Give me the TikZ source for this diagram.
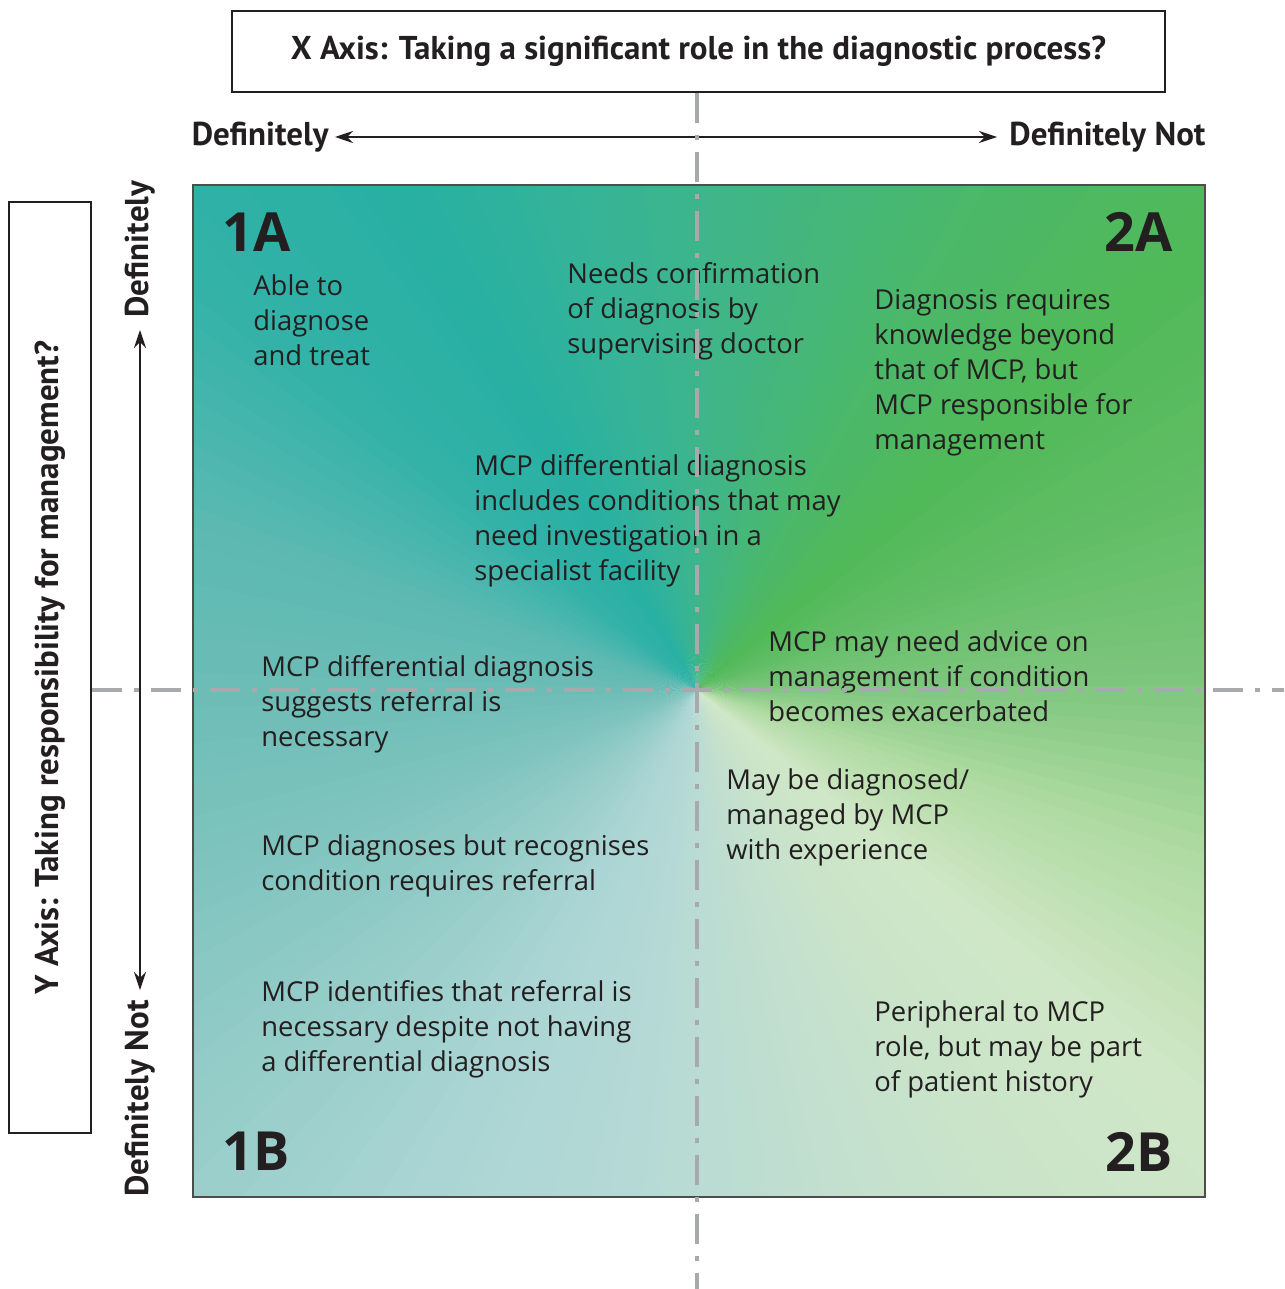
\documentclass[tikz,border=0pt]{standalone}
\usepackage{fontspec}
\setmainfont{Open Sans}
\newfontfamily\axisfont{PT Sans}
\usetikzlibrary{positioning,arrows.meta,calc}
\definecolor{ink}{HTML}{231F20}
\definecolor{axisgrey}{HTML}{A7A9AC}
% conic colour stops, every 20 degrees
\definecolor{g0}{HTML}{7DC67D}
\definecolor{g1}{HTML}{62BE66}
\definecolor{g2}{HTML}{50B958}
\definecolor{g3}{HTML}{4BB86A}
\definecolor{g4}{HTML}{42B682}
\definecolor{g5}{HTML}{37B496}
\definecolor{g6}{HTML}{28B0A3}
\definecolor{g7}{HTML}{34B2A8}
\definecolor{g8}{HTML}{5BB9B2}
\definecolor{g9}{HTML}{6DBDB6}
\definecolor{g10}{HTML}{80C4BF}
\definecolor{g11}{HTML}{96CDC9}
\definecolor{g12}{HTML}{AAD5D4}
\definecolor{g13}{HTML}{B4D9D6}
\definecolor{g14}{HTML}{C0DED0}
\definecolor{g15}{HTML}{CAE4CA}
\definecolor{g16}{HTML}{CFE7C6}
\definecolor{g17}{HTML}{B0DBA3}
\definecolor{g18}{HTML}{7DC67D}
\tikzset{
  titlebox/.style={draw=ink, line width=0.7pt, inner sep=0pt, align=center, text=ink, font=\axisfont\fontsize{16.5}{18}\selectfont\bfseries},
  axislabel/.style={inner sep=0pt, text=ink, font=\axisfont\fontsize{16.5}{18}\selectfont\bfseries},
  quad/.style={inner sep=0pt, text=ink, font=\fontsize{27}{27}\selectfont\bfseries},
  note/.style={anchor=north west, align=left, inner sep=0pt, text=ink, font=\fontsize{13.7}{17.5}\selectfont},
  divider/.style={axisgrey, line width=2pt, dash pattern=on 15pt off 6pt on 2.5pt off 6pt},
}

\begin{document}
\begin{tikzpicture}[x=0.5pt, y=-0.5pt, >={Stealth[length=9pt, width=6pt]}]
\useasboundingbox (0,0) rectangle (1284,1289);
\coordinate (ctr) at (697,690);
\coordinate (tl) at (193,185);
\coordinate (br) at (1205,1197);

% background wash
\begin{scope}
\clip (tl) rectangle (br);
\foreach \i in {0,...,17}{
  \pgfmathtruncatemacro\j{\i+1}
  \foreach \t in {0,...,9}{
    \pgfmathtruncatemacro\p{\t*10}
    \pgfmathsetmacro\s{\i*20+\t*2}
    \fill[g\j!\p!g\i] (ctr) -- +({-\s}:900) -- +({-\s-2.6}:900) -- cycle;
  }
}
\end{scope}
\draw[ink!80, line width=0.7pt] (tl) rectangle (br);

% axis boxes
\node (xbox) [titlebox, minimum width=466.5pt, minimum height=40.5pt] at (698.5,51.5) {X Axis: Taking a significant role in the diagnostic process?};
\node (ybox) [titlebox, minimum width=465.5pt, minimum height=41pt, rotate=90] at (50,667.5) {Y Axis: Taking responsibility for management?};

% axis arrows
\node (xdef) [axislabel, anchor=east] at (329,137) {Definitely};
\node (xnot) [axislabel, anchor=west] at (1009,137) {Definitely Not};
\draw[<->, ink, line width=0.7pt, shorten <=3pt, shorten >=6pt] (xdef) -- (xnot);
\node (ydef) [axislabel, rotate=90, anchor=west] at (140,318) {Definitely};
\node (ynot) [axislabel, rotate=90, anchor=east] at (140,1000) {Definitely Not};
\draw[<->, ink, line width=0.7pt, shorten <=5pt, shorten >=6pt] (ynot) -- (ydef);

% quadrant names
\node (q1a) [quad, anchor=north west] at (222,212) {1A};
\node (q2a) [quad, anchor=north east] at (1173,212) {2A};
\node (q1b) [quad, anchor=north west] at (222,1132) {1B};
\node (q2b) [quad, anchor=north east] at (1173,1132) {2B};

% notes
\node (able)  [note] at (253,274) {Able to\\diagnose\\and treat};
\node (needs) [note] at (567,262) {Needs confirmation\\of diagnosis by\\supervising doctor};
\node (beyond)[note] at (874,289) {Diagnosis requires\\knowledge beyond\\that of MCP, but\\MCP responsible for\\management};
\node (incl)  [note] at (474,454) {MCP differential diagnosis\\includes conditions that may\\need investigation in a\\specialist facility};
\node (advice)[note] at (768,630) {MCP may need advice on\\management if condition\\becomes exacerbated};
\node (sugg)  [note] at (261,655) {MCP differential diagnosis\\suggests referral is\\necessary};
\node (exper) [note] at (726,768) {May be diagnosed/\\managed by MCP\\with experience};
\node (recog) [note] at (261,834) {MCP diagnoses but recognises\\condition requires referral};
\node (ident) [note] at (261,980) {MCP identifies that referral is\\necessary despite not having\\a differential diagnosis};
\node (periph)[note] at (874,1000) {Peripheral to MCP\\role, but may be part\\of patient history};

% dividers
\coordinate (vend) at (697,1289);
\coordinate (hend) at (1284,690);
\draw[divider] (xbox.south -| vend) -- (vend);
\draw[divider] (ybox.south |- hend) -- (hend);
\end{tikzpicture}
\end{document}
